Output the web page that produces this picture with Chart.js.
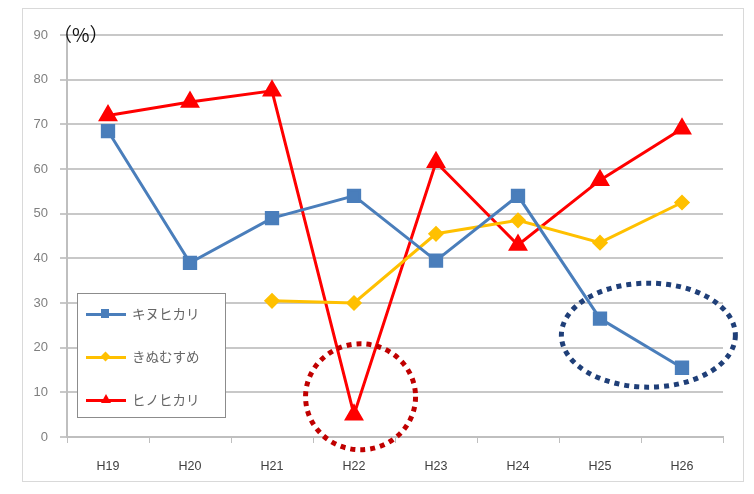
<!DOCTYPE html>
<html lang="ja">
<head>
<meta charset="utf-8">
<script src="https://cdn.jsdelivr.net/npm/chart.js@4.4.1/dist/chart.umd.min.js"></script>
<style>
  html, body { margin: 0; padding: 0; background: #fff; }
  #wrap { position: relative; width: 754px; height: 494px; }
  #frame { position: absolute; left: 22px; top: 8px; width: 722px; height: 474px; border: 1px solid #d9d9d9; box-sizing: border-box; pointer-events: none; }
  #unit { position: absolute; left: 53px; top: 20px; font: 19px "Noto Sans CJK JP", "Noto Sans", sans-serif; color: #111; }
  #legend { position: absolute; left: 77px; top: 293px; width: 149px; height: 125px; border: 1px solid #8c8c8c; box-sizing: border-box; background: #fff; }
  .item { position: absolute; left: 8px; height: 16px; width: 140px; }
  .item .ln { position: absolute; left: 0; top: 7px; width: 40px; height: 3px; }
  .item .mk { position: absolute; }
  .item .tx { position: absolute; left: 46px; top: -3px; font: 13.5px "Noto Sans CJK JP", sans-serif; color: #666; white-space: nowrap; }
</style>
</head>
<body>
<div id="wrap">
  <canvas id="c" width="754" height="494"></canvas>
  <div id="frame"></div>
  <div id="unit">（%）</div>
  <div id="legend"></div>
</div>
<script>
// Survey years and ratio (%) per rice variety
const years = ['H19', 'H20', 'H21', 'H22', 'H23', 'H24', 'H25', 'H26'];
const kinuhikari = [68.5, 39, 49, 54, 39.5, 54, 26.5, 15.5];
const kinumusume = [null, null, 30.5, 30, 45.5, 48.5, 43.5, 52.5];
const hinohikari = [72, 75, 77.5, 5, 61.5, 43, 57.5, 69];
const seriesNames = ['キヌヒカリ', 'きぬむすめ', 'ヒノヒカリ'];
const yTicks = [0, 10, 20, 30, 40, 50, 60, 70, 80, 90];

const colors = ['#4a7ebb', '#ffc000', '#ff0000'];

// Dotted rings highlighting the notable drops (x in category index, y in %)
const highlights = [
  { cx: 3.08, cy: 9, rxPx: 55, ryPx: 53, color: '#c00000' },
  { cx: 6.59, cy: 22.8, rxPx: 87, ryPx: 52, color: '#1f3f78' }
];

const ringPlugin = {
  id: 'rings',
  afterDatasetsDraw(chart) {
    const { ctx, scales: { x, y } } = chart;
    highlights.forEach(h => {
      const i = Math.floor(h.cx);
      const px = x.getPixelForValue(i) + (h.cx - i) * (x.getPixelForValue(1) - x.getPixelForValue(0));
      const py = y.getPixelForValue(h.cy);
      ctx.save();
      ctx.strokeStyle = h.color;
      ctx.lineWidth = 5;
      ctx.setLineDash([5, 5]);
      ctx.beginPath();
      ctx.ellipse(px, py, h.rxPx, h.ryPx, 0, 0, Math.PI * 2);
      ctx.stroke();
      ctx.restore();
    });
  }
};

const chart = new Chart(document.getElementById('c'), {
  type: 'line',
  data: {
    labels: years,
    datasets: [
      { label: seriesNames[0], data: kinuhikari, borderColor: colors[0], backgroundColor: colors[0],
        pointStyle: 'rect', pointRadius: 8, borderWidth: 3 },
      { label: seriesNames[1], data: kinumusume, borderColor: colors[1], backgroundColor: colors[1],
        pointStyle: 'rectRot', pointRadius: 6, borderWidth: 3 },
      { label: seriesNames[2], data: hinohikari, borderColor: colors[2], backgroundColor: colors[2],
        pointStyle: 'triangle', pointRadius: 8.5, borderWidth: 3 }
    ]
  },
  options: {
    responsive: false,
    animation: false,
    events: [],
    layout: { padding: { top: 35, right: 31, bottom: 0, left: 0 } },
    elements: { line: { tension: 0 }, point: { borderWidth: 1 } },
    plugins: { legend: { display: false }, tooltip: { enabled: false } },
    scales: {
      x: {
        offset: true,
        grid: { display: true, drawOnChartArea: false, drawTicks: true, tickLength: 6, color: '#bfbfbf', offset: true },
        border: { display: true, color: '#bfbfbf', width: 2 },
        ticks: { color: '#404040', font: { family: 'Liberation Sans', size: 12.5 }, padding: 16 },
        afterFit(s) { s.height = 57; }
      },
      y: {
        min: 0, max: 90,
        afterBuildTicks(s) { s.ticks = yTicks.map(v => ({ value: v })); },
        grid: { color: '#c8c8c8', lineWidth: 2, tickLength: 7 },
        border: { display: true, color: '#bfbfbf', width: 2 },
        ticks: { color: '#7f7f7f', font: { family: 'Liberation Sans', size: 13 }, padding: 12 },
        afterFit(s) { s.width = 67; }
      }
    }
  },
  plugins: [ringPlugin]
});

// Legend box
const legend = document.getElementById('legend');
const markerCss = [
  'left:15px;top:3px;width:8px;height:9px;background:' + colors[0],
  'left:16px;top:4px;width:7px;height:7px;transform:rotate(45deg);background:' + colors[1],
  'left:15px;top:2px;width:0;height:0;border-left:5px solid transparent;border-right:5px solid transparent;border-bottom:9px solid ' + colors[2]
];
seriesNames.forEach((name, i) => {
  const it = document.createElement('div');
  it.className = 'item';
  it.style.top = (12 + i * 43) + 'px';
  it.innerHTML = '<div class="ln" style="background:' + colors[i] + '"></div>' +
    '<div class="mk" style="' + markerCss[i] + '"></div>' +
    '<div class="tx">' + name + '</div>';
  legend.appendChild(it);
});
</script>
</body>
</html>
